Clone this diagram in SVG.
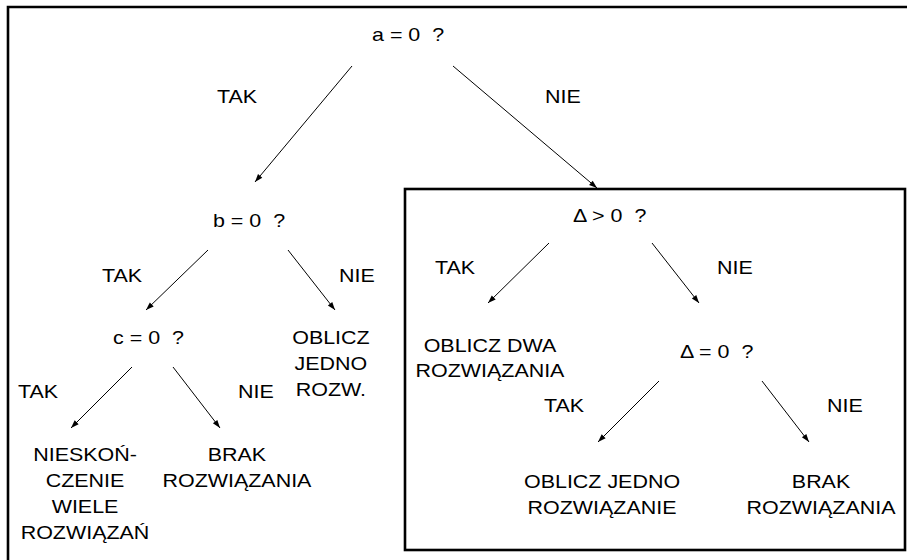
<svg xmlns="http://www.w3.org/2000/svg" width="907" height="560" viewBox="0 0 907 560">
<style>
text{font-family:"Liberation Sans",Arial,sans-serif;font-size:18.5px;fill:#000}
.m{text-anchor:middle}
.c{stroke:#000;stroke-width:1;fill:none;marker-end:url(#ah)}
.f{stroke:#000;stroke-width:2.6;fill:none}
</style>
<defs>
<marker id="ah" viewBox="0 0 10 10" refX="10" refY="5" markerWidth="10" markerHeight="8" markerUnits="userSpaceOnUse" orient="auto">
<path d="M0,1.5 L10,5 L0,8.5 Z" fill="#000"/>
</marker>
</defs>
<rect width="907" height="560" fill="#fff"/>
<g id="frame">
<polyline class="f" points="8,560 8,7 907,7"/>
</g>
<g id="delta-box">
<rect class="f" x="405" y="189" width="500" height="361"/>
</g>
<g id="connectors">
<line class="c" x1="352" y1="66" x2="255" y2="182"/>
<line class="c" x1="453" y1="66" x2="597" y2="188"/>
<line class="c" x1="208" y1="250" x2="146" y2="310"/>
<line class="c" x1="288" y1="250" x2="335" y2="310"/>
<line class="c" x1="132" y1="367" x2="71" y2="428"/>
<line class="c" x1="173" y1="367" x2="220" y2="428"/>
<line class="c" x1="549" y1="243" x2="488" y2="303"/>
<line class="c" x1="652" y1="243" x2="699" y2="303"/>
<line class="c" x1="659" y1="381" x2="598" y2="442"/>
<line class="c" x1="762" y1="381" x2="809" y2="442"/>
<g id="labels" transform="scale(1.16 1)">
<text x="187.1" y="103">TAK</text>
<text x="469.8" y="103">NIE</text>
<text x="87.9" y="282">TAK</text>
<text x="292.2" y="282">NIE</text>
<text x="15.5" y="398">TAK</text>
<text x="205.2" y="398">NIE</text>
<text x="375" y="274">TAK</text>
<text x="618.1" y="274">NIE</text>
<text x="469" y="412">TAK</text>
<text x="712.9" y="412">NIE</text>
</g>
</g>
<g id="node-a" transform="scale(1.16 1)"><text x="320.7" y="41">a = 0&#160; ?</text></g>
<g id="node-b" transform="scale(1.16 1)"><text x="183.6" y="227">b = 0&#160; ?</text></g>
<g id="node-c" transform="scale(1.16 1)"><text x="97.4" y="344">c = 0&#160; ?</text></g>
<g id="node-one-root-linear" transform="scale(1.16 1)" class="m">
<text class="m" x="285.3" y="344">OBLICZ</text>
<text class="m" x="285.3" y="370">JEDNO</text>
<text class="m" x="285.3" y="396">ROZW.</text>
</g>
<g id="node-infinite" transform="scale(1.16 1)">
<text class="m" x="73.3" y="461">NIESKOŃ-</text>
<text class="m" x="73.3" y="487">CZENIE</text>
<text class="m" x="73.3" y="513">WIELE</text>
<text class="m" x="73.3" y="539">ROZWIĄZAŃ</text>
</g>
<g id="node-none-left" transform="scale(1.16 1)">
<text class="m" x="204.3" y="461">BRAK</text>
<text class="m" x="204.3" y="487">ROZWIĄZANIA</text>
</g>
<g id="node-delta-gt" transform="scale(1.16 1)"><text x="494" y="222">Δ &gt; 0&#160; ?</text></g>
<g id="node-two-roots" transform="scale(1.16 1)">
<text class="m" x="422.4" y="352">OBLICZ DWA</text>
<text class="m" x="422.4" y="377">ROZWIĄZANIA</text>
</g>
<g id="node-delta-eq" transform="scale(1.16 1)"><text x="586.2" y="358">Δ = 0&#160; ?</text></g>
<g id="node-one-root" transform="scale(1.16 1)">
<text class="m" x="519" y="488">OBLICZ JEDNO</text>
<text class="m" x="519" y="514">ROZWIĄZANIE</text>
</g>
<g id="node-none-right" transform="scale(1.16 1)">
<text class="m" x="707.8" y="488">BRAK</text>
<text class="m" x="707.8" y="514">ROZWIĄZANIA</text>
</g>
</svg>
